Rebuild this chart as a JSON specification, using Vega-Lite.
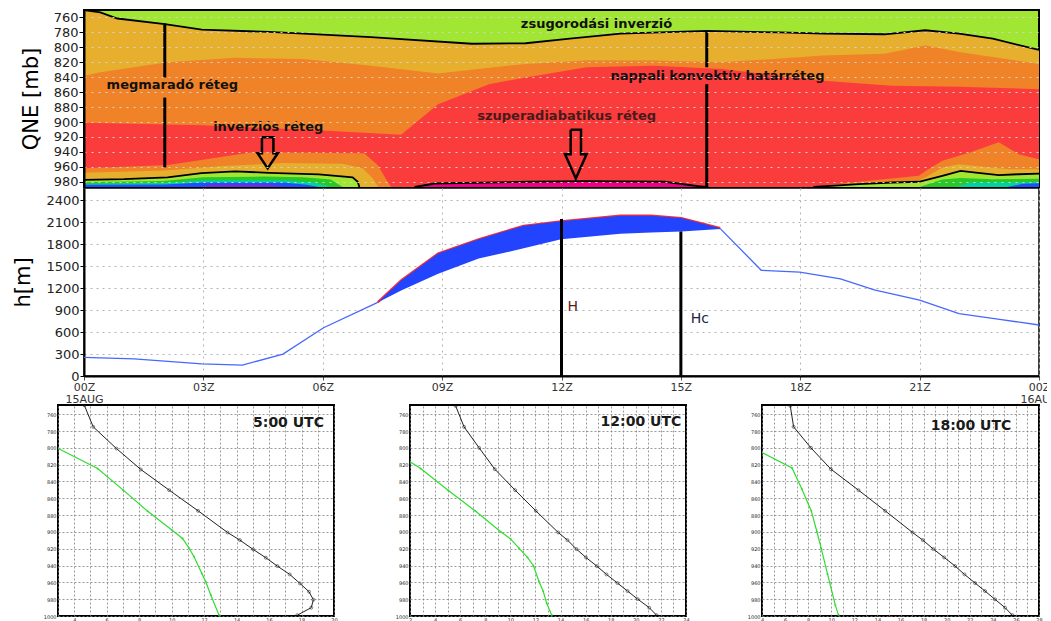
{
 "$schema": "https://vega.github.io/schema/vega-lite/v6.json",
 "background": "white",
 "padding": {"left": 11, "top": 9, "right": -12, "bottom": 0},
 "config": {"font": "DejaVu Sans", "view": {"stroke": null}},
 "datasets": {
  "top": [
   {"k":"gold","t":0,"p":750},{"k":"gold","t":0.41,"p":753.2},{"k":"gold","t":0.84,"p":761.4},{"k":"gold","t":2.03,"p":769},{"k":"gold","t":2.96,"p":776.2},{"k":"gold","t":4.66,"p":779.4},{"k":"gold","t":7.21,"p":786.2},{"k":"gold","t":9.75,"p":795.2},{"k":"gold","t":11.1,"p":794.5},{"k":"gold","t":12.21,"p":788.4},{"k":"gold","t":13.48,"p":781.6},{"k":"gold","t":15.65,"p":778},{"k":"gold","t":17.5,"p":780},{"k":"gold","t":18.59,"p":781.6},{"k":"gold","t":20.12,"p":782.5},{"k":"gold","t":21.14,"p":777.1},{"k":"gold","t":21.99,"p":781.6},{"k":"gold","t":22.84,"p":788.4},{"k":"gold","t":24,"p":803.5},
   {"k":"orange","t":0,"p":838},{"k":"orange","t":0.41,"p":833.5},{"k":"orange","t":2.11,"p":820},{"k":"orange","t":3.81,"p":814.1},{"k":"orange","t":5.51,"p":815.5},{"k":"orange","t":7.21,"p":824.5},{"k":"orange","t":8.9,"p":834.9},{"k":"orange","t":11.1,"p":822.2},{"k":"orange","t":12.63,"p":817.7},{"k":"orange","t":14.33,"p":817.7},{"k":"orange","t":16.03,"p":820},{"k":"orange","t":18.59,"p":811},{"k":"orange","t":20.12,"p":808.7},{"k":"orange","t":21.14,"p":797.4},{"k":"orange","t":21.99,"p":806.4},{"k":"orange","t":24,"p":822.2},
   {"k":"red","t":0,"p":901.1},{"k":"red","t":2.96,"p":904.3},{"k":"red","t":5.51,"p":910.1},{"k":"red","t":7.97,"p":916.9},{"k":"red","t":8.9,"p":876.3},{"k":"red","t":10.18,"p":849.3},{"k":"red","t":11.1,"p":840.3},{"k":"red","t":12.63,"p":826.7},{"k":"red","t":14.33,"p":824.5},{"k":"red","t":16.03,"p":829},{"k":"red","t":18.59,"p":844.8},{"k":"red","t":20.29,"p":851.5},{"k":"red","t":21.99,"p":852.9},{"k":"red","t":24,"p":856},
   {"k":"lorange","t":0,"p":962},{"k":"lorange","t":2.11,"p":957.5},{"k":"lorange","t":4.23,"p":940.4},{"k":"lorange","t":7.04,"p":941.7},{"k":"lorange","t":7.38,"p":957.5},{"k":"lorange","t":7.63,"p":980},{"k":"lorange","t":7.72,"p":987},
   {"k":"lgold","t":0,"p":968},{"k":"lgold","t":2.0,"p":965},{"k":"lgold","t":3.5,"p":959},{"k":"lgold","t":5.0,"p":955},{"k":"lgold","t":6.5,"p":956},{"k":"lgold","t":7.0,"p":962},{"k":"lgold","t":7.25,"p":975},{"k":"lgold","t":7.4,"p":987},
   {"k":"lgreen","t":0,"p":977.5},{"k":"lgreen","t":1.0,"p":976.5},{"k":"lgreen","t":2.1,"p":974},{"k":"lgreen","t":2.95,"p":968.5},{"k":"lgreen","t":3.8,"p":966},{"k":"lgreen","t":4.65,"p":968},{"k":"lgreen","t":5.9,"p":970},{"k":"lgreen","t":6.75,"p":974},{"k":"lgreen","t":6.88,"p":980},{"k":"lgreen","t":6.92,"p":987},
   {"k":"g1","t":0,"p":980.5},{"k":"g1","t":2.0,"p":979},{"k":"g1","t":3.0,"p":974},{"k":"g1","t":4.5,"p":973},{"k":"g1","t":5.5,"p":974},{"k":"g1","t":6.2,"p":977},{"k":"g1","t":6.5,"p":987},
   {"k":"cy","t":0,"p":982.5},{"k":"cy","t":2.0,"p":981.5},{"k":"cy","t":3.0,"p":978},{"k":"cy","t":5.0,"p":978},{"k":"cy","t":5.8,"p":981},{"k":"cy","t":6.2,"p":987},
   {"k":"bl","t":0,"p":984},{"k":"bl","t":2.0,"p":983.5},{"k":"bl","t":3.0,"p":981},{"k":"bl","t":5.0,"p":981},{"k":"bl","t":5.6,"p":984},{"k":"bl","t":5.9,"p":987},
   {"k":"pu","t":2.9,"p":987},{"k":"pu","t":3.2,"p":983},{"k":"pu","t":4.6,"p":983},{"k":"pu","t":5.1,"p":987},
   {"k":"pink","t":8.31,"p":987},{"k":"pink","t":8.82,"p":982.3},{"k":"pink","t":11.18,"p":980},{"k":"pink","t":12.63,"p":979.1},{"k":"pink","t":14.59,"p":980},{"k":"pink","t":15.44,"p":985.9},{"k":"pink","t":15.65,"p":987},
   {"k":"rorange","t":18.3,"p":987},{"k":"rorange","t":19.47,"p":980},{"k":"rorange","t":20.98,"p":972},{"k":"rorange","t":21.15,"p":965.5},{"k":"rorange","t":21.57,"p":952},{"k":"rorange","t":22.24,"p":941},{"k":"rorange","t":22.99,"p":927},{"k":"rorange","t":23.49,"p":943},{"k":"rorange","t":24,"p":950},
   {"k":"rgold","t":19.0,"p":987},{"k":"rgold","t":19.47,"p":983},{"k":"rgold","t":20.98,"p":978},{"k":"rgold","t":21.15,"p":974},{"k":"rgold","t":21.57,"p":961},{"k":"rgold","t":21.99,"p":956.6},{"k":"rgold","t":22.41,"p":958.8},{"k":"rgold","t":23.24,"p":963.2},{"k":"rgold","t":24,"p":963.2},
   {"k":"rlgreen","t":18.33,"p":987},{"k":"rlgreen","t":19.47,"p":983.2},{"k":"rlgreen","t":20.31,"p":981},{"k":"rlgreen","t":20.98,"p":980},{"k":"rlgreen","t":21.57,"p":972},{"k":"rlgreen","t":22.03,"p":965.5},{"k":"rlgreen","t":22.41,"p":967.7},{"k":"rlgreen","t":22.99,"p":971.2},{"k":"rlgreen","t":23.49,"p":969.9},{"k":"rlgreen","t":24,"p":969},
   {"k":"rg1","t":21.0,"p":987},{"k":"rg1","t":21.57,"p":977},{"k":"rg1","t":22.03,"p":975},{"k":"rg1","t":22.82,"p":976.5},{"k":"rg1","t":24,"p":976},
   {"k":"rcy","t":21.9,"p":987},{"k":"rcy","t":22.3,"p":980.5},{"k":"rcy","t":24,"p":980.5},
   {"k":"rbl","t":23.2,"p":987},{"k":"rbl","t":23.6,"p":982.5},{"k":"rbl","t":24,"p":982}
  ],
  "arrows": [
   {"k":"a1","o":0,"t":4.472,"p":920.5},{"k":"a1","o":1,"t":4.76,"p":920.5},{"k":"a1","o":2,"t":4.76,"p":941.7},{"k":"a1","o":3,"t":4.871,"p":941.7},{"k":"a1","o":4,"t":4.616,"p":962},{"k":"a1","o":5,"t":4.362,"p":941.7},{"k":"a1","o":6,"t":4.472,"p":941.7},{"k":"a1","o":7,"t":4.472,"p":920.5},
   {"k":"a2","o":0,"t":12.23,"p":910.2},{"k":"a2","o":1,"t":12.49,"p":910.2},{"k":"a2","o":2,"t":12.49,"p":943.1},{"k":"a2","o":3,"t":12.63,"p":943.1},{"k":"a2","o":4,"t":12.36,"p":975.5},{"k":"a2","o":5,"t":12.09,"p":943.1},{"k":"a2","o":6,"t":12.23,"p":943.1},{"k":"a2","o":7,"t":12.23,"p":910.2}
  ],
  "vlines": [
   {"t":2.03,"a":768.1,"b":840.3},{"t":2.03,"a":867.3,"b":960.7},{"t":15.65,"a":778,"b":826.7},{"t":15.65,"a":849.3,"b":987}
  ],
  "toplabels": [
   {"t":12.88,"p":768.1,"txt":"zsugorodási inverzió"},
   {"t":2.22,"p":850.2,"txt":"megmaradó réteg"},
   {"t":4.63,"p":907,"txt":"inverziós réteg"},
   {"t":15.92,"p":838.9,"txt":"nappali konvektív határréteg"}
  ],
  "line": [
   {"seg":"a","t":0,"h":254},{"seg":"a","t":1.26,"h":235},{"seg":"a","t":2.96,"h":166},{"seg":"a","t":3.98,"h":148},{"seg":"a","t":5.0,"h":300},{"seg":"a","t":6.02,"h":660},{"seg":"a","t":7.29,"h":983},{"seg":"a","t":7.38,"h":1006},
   {"seg":"b","t":15.99,"h":2015},{"seg":"b","t":17.02,"h":1445},{"seg":"b","t":17.99,"h":1421},{"seg":"b","t":19.01,"h":1329},{"seg":"b","t":19.86,"h":1177},{"seg":"b","t":21.0,"h":1038},{"seg":"b","t":21.99,"h":854},{"seg":"b","t":23.01,"h":775},{"seg":"b","t":24,"h":697}
  ],
  "band": [
   {"t":7.38,"lo":1006,"hi":1006},{"t":7.97,"lo":1168,"hi":1306},{"t":8.9,"lo":1398,"hi":1675},{"t":9.92,"lo":1606,"hi":1869},{"t":11.05,"lo":1745,"hi":2054},{"t":11.99,"lo":1869,"hi":2114},{"t":13.48,"lo":1943,"hi":2192},{"t":14.25,"lo":1961,"hi":2192},{"t":15.01,"lo":1975,"hi":2160},{"t":15.99,"lo":2008,"hi":2021}
  ],
  "hlines": [{"t":12,"top":2146},{"t":15,"top":1975}],
  "snd": [
   {"pan":1,"k":"T","x":4.62,"p":749.3},{"pan":1,"k":"T","x":5.17,"p":775},{"pan":1,"k":"T","x":6.6,"p":800.8},{"pan":1,"k":"T","x":8.1,"p":825.7},{"pan":1,"k":"T","x":9.85,"p":850.3},{"pan":1,"k":"T","x":11.63,"p":874.9},{"pan":1,"k":"T","x":13.44,"p":900.6},{"pan":1,"k":"T","x":14.2,"p":909.7},{"pan":1,"k":"T","x":15.02,"p":920.8},{"pan":1,"k":"T","x":15.8,"p":930.7},{"pan":1,"k":"T","x":16.51,"p":940.6},{"pan":1,"k":"T","x":17.27,"p":950.5},{"pan":1,"k":"T","x":17.9,"p":961.2},{"pan":1,"k":"T","x":18.46,"p":971.1},{"pan":1,"k":"T","x":18.73,"p":980.6},{"pan":1,"k":"T","x":18.6,"p":990.1},{"pan":1,"k":"T","x":17.74,"p":999},
   {"pan":1,"k":"G","x":3.02,"p":800.8},{"pan":1,"k":"G","x":5.44,"p":824.6},{"pan":1,"k":"G","x":7.02,"p":850.3},{"pan":1,"k":"G","x":8.51,"p":875.2},{"pan":1,"k":"G","x":10.01,"p":897.8},{"pan":1,"k":"G","x":10.67,"p":907.7},{"pan":1,"k":"G","x":11.08,"p":919.6},{"pan":1,"k":"G","x":11.38,"p":929.5},{"pan":1,"k":"G","x":11.86,"p":949.3},{"pan":1,"k":"G","x":12.1,"p":959.2},{"pan":1,"k":"G","x":12.41,"p":975},{"pan":1,"k":"G","x":12.92,"p":999},
   {"pan":2,"k":"T","x":5.64,"p":750.1},{"pan":2,"k":"T","x":6.31,"p":775},{"pan":2,"k":"T","x":7.51,"p":800},{"pan":2,"k":"T","x":8.76,"p":825.3},{"pan":2,"k":"T","x":10.38,"p":850.3},{"pan":2,"k":"T","x":12.03,"p":874.9},{"pan":2,"k":"T","x":13.81,"p":900.6},{"pan":2,"k":"T","x":14.55,"p":909.7},{"pan":2,"k":"T","x":15.27,"p":920.4},{"pan":2,"k":"T","x":16.02,"p":930.3},{"pan":2,"k":"T","x":16.89,"p":940.6},{"pan":2,"k":"T","x":17.66,"p":950.5},{"pan":2,"k":"T","x":18.54,"p":960.8},{"pan":2,"k":"T","x":19.34,"p":970.3},{"pan":2,"k":"T","x":20.14,"p":979.8},{"pan":2,"k":"T","x":21.07,"p":990.1},{"pan":2,"k":"T","x":21.65,"p":999},
   {"pan":2,"k":"G","x":2.0,"p":816.6},{"pan":2,"k":"G","x":2.85,"p":824.6},{"pan":2,"k":"G","x":5.03,"p":850.3},{"pan":2,"k":"G","x":7.19,"p":874.9},{"pan":2,"k":"G","x":9.23,"p":899.8},{"pan":2,"k":"G","x":10.03,"p":908.5},{"pan":2,"k":"G","x":10.7,"p":919.6},{"pan":2,"k":"G","x":11.36,"p":930.3},{"pan":2,"k":"G","x":11.84,"p":940.2},{"pan":2,"k":"G","x":12.29,"p":959.2},{"pan":2,"k":"G","x":12.61,"p":970.3},{"pan":2,"k":"G","x":12.9,"p":985},{"pan":2,"k":"G","x":13.3,"p":999},
   {"pan":3,"k":"T","x":6.45,"p":750.1},{"pan":3,"k":"T","x":6.74,"p":775},{"pan":3,"k":"T","x":8.24,"p":800},{"pan":3,"k":"T","x":9.97,"p":825.3},{"pan":3,"k":"T","x":12.36,"p":850.3},{"pan":3,"k":"T","x":14.67,"p":874.9},{"pan":3,"k":"T","x":17.04,"p":900.6},{"pan":3,"k":"T","x":17.93,"p":909.7},{"pan":3,"k":"T","x":18.85,"p":920.4},{"pan":3,"k":"T","x":19.78,"p":930.3},{"pan":3,"k":"T","x":20.73,"p":940.6},{"pan":3,"k":"T","x":21.54,"p":950.5},{"pan":3,"k":"T","x":22.46,"p":960.8},{"pan":3,"k":"T","x":23.32,"p":970.3},{"pan":3,"k":"T","x":24.19,"p":980.2},{"pan":3,"k":"T","x":25.06,"p":990.1},{"pan":3,"k":"T","x":25.69,"p":999},
   {"pan":3,"k":"G","x":4.0,"p":805.5},{"pan":3,"k":"G","x":6.6,"p":823.8},{"pan":3,"k":"G","x":7.46,"p":849.1},{"pan":3,"k":"G","x":8.27,"p":874.9},{"pan":3,"k":"G","x":8.76,"p":899.8},{"pan":3,"k":"G","x":9.13,"p":919.6},{"pan":3,"k":"G","x":9.68,"p":950.1},{"pan":3,"k":"G","x":9.86,"p":960},{"pan":3,"k":"G","x":10.35,"p":987},{"pan":3,"k":"G","x":10.63,"p":999}
  ]
 },
 "bounds": "full",
 "spacing": -5,
 "vconcat": [
  {
   "bounds": "flush",
   "spacing": 25,
   "hconcat": [
    {"width": 1, "height": 1, "data": {"values": [{"a": 1}]}, "mark": {"type": "point", "opacity": 0, "size": 0}, "encoding": {}},
    {
     "bounds": "flush",
     "spacing": 1,
     "vconcat": [
      {
       "width": 955, "height": 177,
       "view": {"fill": "#a0e632", "stroke": "#000", "strokeWidth": 2},
       "data": {"name": "top"},
       "encoding": {
        "x": {"field": "t", "type": "quantitative", "scale": {"domain": [0, 24], "nice": false, "zero": false}, "axis": null},
        "y": {"field": "p", "type": "quantitative", "scale": {"domain": [750, 987], "reverse": true, "nice": false, "zero": false},
         "axis": {"values": [760,780,800,820,840,860,880,900,920,940,960,980], "title": "QNE [mb]", "titleFont": "DejaVu Sans", "titleFontSize": 21, "titleFontWeight": "normal", "titleColor": "#000", "titleX": -43,
          "labelFont": "DejaVu Sans", "labelFontSize": 13, "labelColor": "#222", "labelPadding": 1, "tickSize": 5, "tickColor": "#000", "domainColor": "#000", "domainWidth": 2,
          "grid": true, "gridColor": "#d4d4d4", "gridDash": [2, 5], "gridWidth": 1, "zindex": 1}}
       },
       "layer": [
        {"transform": [{"filter": "datum.k == 'gold'"}], "mark": {"type": "area", "color": "#e6af2d", "clip": true}, "encoding": {"y2": {"datum": 987}}},
        {"transform": [{"filter": "datum.k == 'orange'"}], "mark": {"type": "area", "color": "#f08228", "clip": true}, "encoding": {"y2": {"datum": 987}}},
        {"transform": [{"filter": "datum.k == 'red'"}], "mark": {"type": "area", "color": "#fa3c3c", "clip": true}, "encoding": {"y2": {"datum": 987}}},
        {"transform": [{"filter": "datum.k == 'lorange'"}], "mark": {"type": "area", "color": "#f08228", "clip": true}, "encoding": {"y2": {"datum": 987}}},
        {"transform": [{"filter": "datum.k == 'lgold'"}], "mark": {"type": "area", "color": "#e6af2d", "clip": true}, "encoding": {"y2": {"datum": 987}}},
        {"transform": [{"filter": "datum.k == 'lgreen'"}], "mark": {"type": "area", "color": "#a0e632", "clip": true}, "encoding": {"y2": {"datum": 987}}},
        {"transform": [{"filter": "datum.k == 'g1'"}], "mark": {"type": "area", "color": "#28c828", "clip": true}, "encoding": {"y2": {"datum": 987}}},
        {"transform": [{"filter": "datum.k == 'cy'"}], "mark": {"type": "area", "color": "#00d2a0", "clip": true}, "encoding": {"y2": {"datum": 987}}},
        {"transform": [{"filter": "datum.k == 'bl'"}], "mark": {"type": "area", "color": "#1e50ff", "clip": true}, "encoding": {"y2": {"datum": 987}}},
        {"transform": [{"filter": "datum.k == 'pu'"}], "mark": {"type": "area", "color": "#6432e6", "clip": true}, "encoding": {"y2": {"datum": 987}}},
        {"transform": [{"filter": "datum.k == 'pink'"}], "mark": {"type": "area", "color": "#f00082", "clip": true}, "encoding": {"y2": {"datum": 987}}},
        {"transform": [{"filter": "datum.k == 'rorange'"}], "mark": {"type": "area", "color": "#f08228", "clip": true}, "encoding": {"y2": {"datum": 987}}},
        {"transform": [{"filter": "datum.k == 'rgold'"}], "mark": {"type": "area", "color": "#e6af2d", "clip": true}, "encoding": {"y2": {"datum": 987}}},
        {"transform": [{"filter": "datum.k == 'rlgreen'"}], "mark": {"type": "area", "color": "#a0e632", "clip": true}, "encoding": {"y2": {"datum": 987}}},
        {"transform": [{"filter": "datum.k == 'rg1'"}], "mark": {"type": "area", "color": "#28c828", "clip": true}, "encoding": {"y2": {"datum": 987}}},
        {"transform": [{"filter": "datum.k == 'rcy'"}], "mark": {"type": "area", "color": "#00d2a0", "clip": true}, "encoding": {"y2": {"datum": 987}}},
        {"transform": [{"filter": "datum.k == 'rbl'"}], "mark": {"type": "area", "color": "#1e50ff", "clip": true}, "encoding": {"y2": {"datum": 987}}},
        {"transform": [{"filter": "datum.k == 'gold' || datum.k == 'lgreen' || datum.k == 'pink' || datum.k == 'rlgreen'"}], "mark": {"type": "line", "color": "#000", "strokeWidth": 1.8, "clip": true}, "encoding": {"detail": {"field": "k"}}},
        {"data": {"name": "vlines"}, "mark": {"type": "rule", "color": "#000", "strokeWidth": 3}, "encoding": {"y": {"field": "a", "type": "quantitative"}, "y2": {"field": "b"}}},
        {"data": {"name": "arrows"}, "mark": {"type": "line", "color": "#000", "strokeWidth": 2.5, "strokeJoin": "miter"}, "encoding": {"detail": {"field": "k"}, "order": {"field": "o"}}},
        {"data": {"name": "toplabels"}, "mark": {"type": "text", "font": "DejaVu Sans", "fontWeight": "bold", "fontSize": 13, "color": "#111", "align": "center", "baseline": "middle"}, "encoding": {"text": {"field": "txt"}}},
        {"data": {"values": [{"t": 12.13, "p": 892.1, "txt": "szuperadiabatikus réteg"}]}, "mark": {"type": "text", "font": "DejaVu Sans", "fontWeight": "bold", "fontSize": 13, "color": "#4a1a1a", "align": "center", "baseline": "middle"}, "encoding": {"text": {"field": "txt"}}}
       ]
      },
      {
       "width": 955, "height": 188,
       "view": {"stroke": "#000", "strokeWidth": 1.5},
       "encoding": {
        "x": {"field": "t", "type": "quantitative", "scale": {"domain": [0, 24], "nice": false, "zero": false},
         "axis": {"values": [0,3,6,9,12,15,18,21,24], "title": null,
          "labelExpr": "datum.value == 0 ? ['00Z', '15AUG'] : datum.value == 24 ? ['00Z', '16AUG'] : (datum.value < 10 ? '0' + datum.value + 'Z' : datum.value + 'Z')",
          "labelFont": "DejaVu Sans", "labelFontSize": 11, "labelColor": "#333", "labelLineHeight": 12, "labelPadding": 1, "labelFlush": false, "labelOverlap": false, "labelBound": false,
          "tickSize": 4, "tickColor": "#555", "domainColor": "#000", "domainWidth": 2,
          "grid": true, "gridColor": "#b4b4b4", "gridDash": [2, 4], "gridWidth": 1}},
        "y": {"field": "h", "type": "quantitative", "scale": {"domain": [0, 2570], "nice": false, "zero": false},
         "axis": {"values": [0,300,600,900,1200,1500,1800,2100,2400], "format": "d", "title": "h[m]", "titleFont": "DejaVu Sans", "titleFontSize": 21, "titleFontWeight": "normal", "titleColor": "#000", "titleX": -51,
          "labelFont": "DejaVu Sans", "labelFontSize": 13, "labelColor": "#222", "labelPadding": 1, "tickSize": 4, "tickColor": "#000", "domainColor": "#000", "domainWidth": 2,
          "grid": true, "gridColor": "#b4b4b4", "gridDash": [2, 4], "gridWidth": 1}}
       },
       "layer": [
        {"data": {"name": "line"}, "mark": {"type": "line", "color": "#4668ff", "strokeWidth": 1.3}, "encoding": {"detail": {"field": "seg"}}},
        {"data": {"name": "band"}, "mark": {"type": "line", "color": "#ff2a2a", "strokeWidth": 2.2}, "encoding": {"y": {"field": "hi", "type": "quantitative"}}},
        {"data": {"name": "band"}, "mark": {"type": "area", "color": "#2244ff", "opacity": 1}, "encoding": {"y": {"field": "hi", "type": "quantitative"}, "y2": {"field": "lo"}}},
        {"data": {"name": "hlines"}, "mark": {"type": "rule", "color": "#000", "strokeWidth": 3}, "encoding": {"y": {"field": "top", "type": "quantitative"}, "y2": {"datum": 0}}},
        {"data": {"values": [{"t": 12.15, "h": 937, "txt": "H"}]}, "mark": {"type": "text", "font": "DejaVu Sans", "fontSize": 14, "color": "#5a1919", "align": "left", "baseline": "middle"}, "encoding": {"text": {"field": "txt"}}},
        {"data": {"values": [{"t": 15.25, "h": 775, "txt": "Hc"}]}, "mark": {"type": "text", "font": "DejaVu Sans", "fontSize": 14, "color": "#1c2340", "align": "left", "baseline": "middle"}, "encoding": {"text": {"field": "txt"}}}
       ]
      }
     ]
    }
   ]
  },
  {
   "bounds": "flush",
   "spacing": 76,
   "hconcat": [
    {
     "width": 276, "height": 211,
     "view": {"stroke": "#000", "strokeWidth": 2},
     "data": {"name": "snd"},
     "transform": [{"filter": "datum.pan == 1"}],
     "encoding": {
      "x": {"field": "x", "type": "quantitative", "scale": {"domain": [3, 20], "nice": false, "zero": false},
       "axis": {"values": [3,4,5,6,7,8,9,10,11,12,13,14,15,16,17,18,19,20], "labelExpr": "datum.value % 2 == 0 ? datum.label : ''", "title": null, "grid": true, "gridColor": "#808080", "gridDash": [2, 2], "gridWidth": 0.8, "ticks": false, "domain": false, "labelFontSize": 5, "labelColor": "#222", "labelPadding": 1, "labelFlush": false, "labelOverlap": false}},
      "y": {"field": "p", "type": "quantitative", "scale": {"domain": [749, 1000], "reverse": true, "nice": false, "zero": false},
       "axis": {"values": [760,780,800,820,840,860,880,900,920,940,960,980,1000], "format": "d", "title": null, "grid": true, "gridColor": "#808080", "gridDash": [2, 2], "gridWidth": 0.8, "ticks": false, "domain": false, "labelFontSize": 5, "labelColor": "#222", "labelPadding": 2, "labelFlush": false, "labelOverlap": false}},
      "order": {"field": "p"}
     },
     "layer": [
      {"transform": [{"filter": "datum.k == 'G'"}], "mark": {"type": "line", "color": "#30dc30", "strokeWidth": 1.2, "clip": true}},
      {"transform": [{"filter": "datum.k == 'G'"}], "mark": {"type": "point", "shape": "circle", "filled": true, "size": 5, "color": "#30dc30", "clip": true}},
      {"transform": [{"filter": "datum.k == 'T'"}], "mark": {"type": "line", "color": "#222", "strokeWidth": 1, "clip": true}},
      {"transform": [{"filter": "datum.k == 'T'"}], "mark": {"type": "point", "shape": "circle", "filled": false, "size": 9, "color": "#222", "strokeWidth": 0.8, "clip": true}},
      {"data": {"values": [{"x": 19.38, "p": 770.3, "txt": "5:00 UTC"}]}, "mark": {"type": "text", "align": "right", "baseline": "middle", "font": "DejaVu Sans", "fontWeight": "bold", "fontSize": 14, "color": "#1a1a1a"}, "encoding": {"text": {"field": "txt"}}}
     ]
    },
    {
     "width": 276, "height": 211,
     "view": {"stroke": "#000", "strokeWidth": 2},
     "data": {"name": "snd"},
     "transform": [{"filter": "datum.pan == 2"}],
     "encoding": {
      "x": {"field": "x", "type": "quantitative", "scale": {"domain": [2, 24], "nice": false, "zero": false},
       "axis": {"values": [2,3,4,5,6,7,8,9,10,11,12,13,14,15,16,17,18,19,20,21,22,23,24], "labelExpr": "datum.value % 2 == 0 ? datum.label : ''", "title": null, "grid": true, "gridColor": "#808080", "gridDash": [2, 2], "gridWidth": 0.8, "ticks": false, "domain": false, "labelFontSize": 5, "labelColor": "#222", "labelPadding": 1, "labelFlush": false, "labelOverlap": false}},
      "y": {"field": "p", "type": "quantitative", "scale": {"domain": [749, 1000], "reverse": true, "nice": false, "zero": false},
       "axis": {"values": [760,780,800,820,840,860,880,900,920,940,960,980,1000], "format": "d", "title": null, "grid": true, "gridColor": "#808080", "gridDash": [2, 2], "gridWidth": 0.8, "ticks": false, "domain": false, "labelFontSize": 5, "labelColor": "#222", "labelPadding": 2, "labelFlush": false, "labelOverlap": false}},
      "order": {"field": "p"}
     },
     "layer": [
      {"transform": [{"filter": "datum.k == 'G'"}], "mark": {"type": "line", "color": "#30dc30", "strokeWidth": 1.2, "clip": true}},
      {"transform": [{"filter": "datum.k == 'G'"}], "mark": {"type": "point", "shape": "circle", "filled": true, "size": 5, "color": "#30dc30", "clip": true}},
      {"transform": [{"filter": "datum.k == 'T'"}], "mark": {"type": "line", "color": "#222", "strokeWidth": 1, "clip": true}},
      {"transform": [{"filter": "datum.k == 'T'"}], "mark": {"type": "point", "shape": "circle", "filled": false, "size": 9, "color": "#222", "strokeWidth": 0.8, "clip": true}},
      {"data": {"values": [{"x": 23.62, "p": 768.8, "txt": "12:00 UTC"}]}, "mark": {"type": "text", "align": "right", "baseline": "middle", "font": "DejaVu Sans", "fontWeight": "bold", "fontSize": 14, "color": "#1a1a1a"}, "encoding": {"text": {"field": "txt"}}}
     ]
    },
    {
     "width": 277, "height": 211,
     "view": {"stroke": "#000", "strokeWidth": 2},
     "data": {"name": "snd"},
     "transform": [{"filter": "datum.pan == 3"}],
     "encoding": {
      "x": {"field": "x", "type": "quantitative", "scale": {"domain": [4, 28], "nice": false, "zero": false},
       "axis": {"values": [4,5,6,7,8,9,10,11,12,13,14,15,16,17,18,19,20,21,22,23,24,25,26,27,28], "labelExpr": "datum.value % 2 == 0 ? datum.label : ''", "title": null, "grid": true, "gridColor": "#808080", "gridDash": [2, 2], "gridWidth": 0.8, "ticks": false, "domain": false, "labelFontSize": 5, "labelColor": "#222", "labelPadding": 1, "labelFlush": false, "labelOverlap": false}},
      "y": {"field": "p", "type": "quantitative", "scale": {"domain": [749, 1000], "reverse": true, "nice": false, "zero": false},
       "axis": {"values": [760,780,800,820,840,860,880,900,920,940,960,980,1000], "format": "d", "title": null, "grid": true, "gridColor": "#808080", "gridDash": [2, 2], "gridWidth": 0.8, "ticks": false, "domain": false, "labelFontSize": 5, "labelColor": "#222", "labelPadding": 2, "labelFlush": false, "labelOverlap": false}},
      "order": {"field": "p"}
     },
     "layer": [
      {"transform": [{"filter": "datum.k == 'G'"}], "mark": {"type": "line", "color": "#30dc30", "strokeWidth": 1.2, "clip": true}},
      {"transform": [{"filter": "datum.k == 'G'"}], "mark": {"type": "point", "shape": "circle", "filled": true, "size": 5, "color": "#30dc30", "clip": true}},
      {"transform": [{"filter": "datum.k == 'T'"}], "mark": {"type": "line", "color": "#222", "strokeWidth": 1, "clip": true}},
      {"transform": [{"filter": "datum.k == 'T'"}], "mark": {"type": "point", "shape": "circle", "filled": false, "size": 9, "color": "#222", "strokeWidth": 0.8, "clip": true}},
      {"data": {"values": [{"x": 25.6, "p": 774, "txt": "18:00 UTC"}]}, "mark": {"type": "text", "align": "right", "baseline": "middle", "font": "DejaVu Sans", "fontWeight": "bold", "fontSize": 14, "color": "#1a1a1a"}, "encoding": {"text": {"field": "txt"}}}
     ]
    }
   ]
  }
 ]
}
